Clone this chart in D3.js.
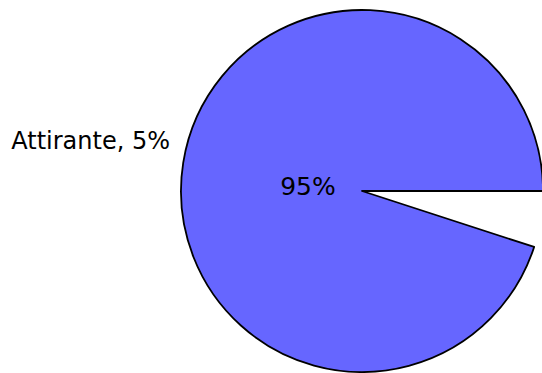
<!DOCTYPE html>
<html>
<head>
<meta charset="utf-8">
<script src="https://cdn.jsdelivr.net/npm/d3@7"></script>
<style>
  body { margin: 0; background: #fff; }
  text { font-family: "DejaVu Sans", sans-serif; }
</style>
</head>
<body>
<div id="chart"></div>
<script>
// chart data
const labels = ["Attirante", "Altro"];
const values = [5, 95];
const shown = [false, true];

const width = 542, height = 373;
const cx = 362, cy = 191, radius = 181;

const svg = d3.select("#chart")
    .append("svg")
    .attr("width", width)
    .attr("height", height);

const g = svg.append("g")
    .attr("transform", "translate(" + cx + "," + cy + ")");

// slices start at 3 o'clock, going clockwise
const pie = d3.pie()
    .sort(null)
    .startAngle(Math.PI / 2)
    .endAngle(Math.PI / 2 + 2 * Math.PI);

const arc = d3.arc().innerRadius(0).outerRadius(radius);

const arcs = pie(values);

g.selectAll("path")
    .data(arcs.filter((d, i) => shown[i]))
    .enter()
    .append("path")
    .attr("d", arc)
    .attr("fill", "#6666ff")
    .attr("stroke", "#000")
    .attr("stroke-width", 1.8)
    .attr("stroke-linejoin", "round");

const total = d3.sum(values);
const pct = v => Math.round(v / total * 100) + "%";

// label of the missing slice, on the left
svg.append("text")
    .attr("x", 170)
    .attr("y", 149)
    .attr("text-anchor", "end")
    .attr("font-size", 24)
    .text(labels[0] + ", " + pct(values[0]));

// label inside the big slice
svg.append("text")
    .attr("x", 308)
    .attr("y", 195)
    .attr("text-anchor", "middle")
    .attr("font-size", 25)
    .text(pct(values[1]));
</script>
</body>
</html>
